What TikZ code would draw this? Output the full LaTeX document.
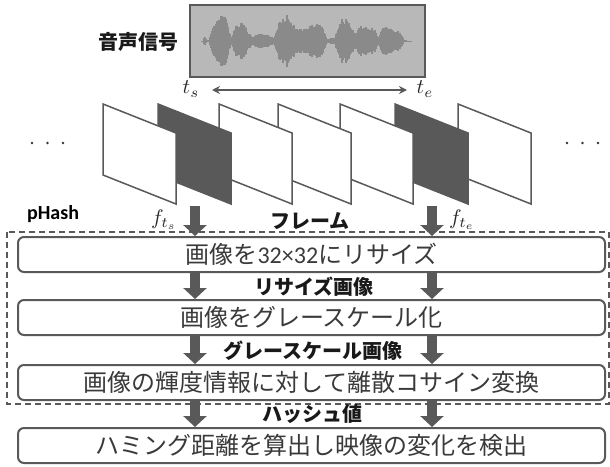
\documentclass[tikz,border=0pt]{standalone}
\usepackage{graphicx}
\usepackage{fontspec}
\newfontfamily\jpfont{Noto Sans CJK JP}
\newfontfamily\calfont{Carlito}
\usetikzlibrary{arrows.meta}
\definecolor{dg}{HTML}{595959}
\definecolor{boxgray}{HTML}{B8B8B8}
\definecolor{wavegray}{HTML}{8A8A8A}
\definecolor{txtgray}{HTML}{3A3A3A}
\newcommand\bigmath[1]{\scalebox{2.1}{$#1$}}
\begin{document}
\begin{tikzpicture}[x=1pt,y=-1pt,
  declare function={bump(\x,\c,\w,\h)=\h*max(0,1-((\x-\c)/\w)*((\x-\c)/\w));},
  procbox/.style={draw=dg, line width=2pt, rounded corners=6pt, fill=white,
    minimum width=587pt, minimum height=35pt, inner sep=0pt,
    font=\jpfont\fontsize{24}{28}\selectfont, text=txtgray},
  boldlbl/.style={font=\jpfont\bfseries\fontsize{20}{24}\selectfont, text=black!90, inner sep=0pt},
  mathlbl/.style={inner sep=0pt, text=black!85},
  framestyle/.style={draw=dg, line width=1.5pt, line join=miter},
  bigarr/.style={draw=dg, line width=10pt, -{Triangle[width=23pt,length=11pt]}},
  wave/.style={draw=wavegray, line width=1.2pt},
  dotmark/.style={fill=black!80, draw=none}
]
\useasboundingbox (0,0) rectangle (610,466);

% audio signal
\node[draw=dg, line width=2pt, fill=boxgray, minimum width=235pt, minimum height=72pt, inner sep=0pt] (audio) at (307.5,41) {};
\node[boldlbl] (audiolbl) at (138,42) {音声信号};
\draw[draw=wavegray, line width=1pt] (201,41) -- (412,41);
\pgfmathsetseed{11}
\foreach \x in {204,...,406} {
  \pgfmathsetmacro\a{(bump(\x,219,10,22)+bump(\x,226,6,12)+bump(\x,239,8,18)+bump(\x,246,6,10)+bump(\x,262,14,7)+bump(\x,283,9,22)+bump(\x,293,9,16)+bump(\x,306,8,14)+bump(\x,318,9,18)+bump(\x,332,5,3)+bump(\x,343,8,22)+bump(\x,351,6,12)+bump(\x,362,7,16)+bump(\x,372,7,13)+bump(\x,386,8,14)+bump(\x,396,8,10)+bump(\x,205,2,3))*(0.72+0.28*rnd)+0.6}
  \draw[wave] (\x,41-\a) -- (\x,41+\a);
}

% time span
\node[mathlbl] (ts) at (191,89) {\bigmath{t_s}};
\node[mathlbl] (te) at (425,89) {\bigmath{t_e}};
\coordinate (tl) at (212,90);
\coordinate (tr) at (407,90);
\draw[dg, line width=1.8pt, {Stealth[length=8pt,width=8pt]}-{Stealth[length=8pt,width=8pt]}] (tl) -- (tr);

% frames (drawn back to front)
\foreach \x/\c in {458/white,395/dg,340/white,278/white,219/white,158/dg,103/white} {
  \filldraw[framestyle, fill=\c] (\x,104) -- ++(73,29) -- ++(0,71) -- ++(-73,-29) -- cycle;
}

% dots
\foreach \x in {32,47.5,63,567,582.5,598} {
  \fill[dotmark] (\x,143) circle (1.3pt);
}

% labels
\node[font=\calfont\bfseries\fontsize{20}{24}\selectfont, inner sep=0pt] (phash) at (53,214) {pHash};
\node[mathlbl] (fts) at (164,220) {\bigmath{f_{t_s}}};
\node[mathlbl] (fte) at (462,220) {\bigmath{f_{t_e}}};
\node[boldlbl] (frm) at (310,221) {フレーム};

% dashed pHash region
\draw[dg, line width=1.2pt, dash pattern=on 6pt off 4pt] (7,232) rectangle (609,404);

% process boxes
\node[procbox] (b1) at (311.5,254.5) {画像を{\calfont 32×32}にリサイズ};
\node[procbox] (b2) at (311.5,317.5) {画像をグレースケール化};
\node[procbox] (b3) at (311.5,382.5) {画像の輝度情報に対して離散コサイン変換};
\node[procbox] (b4) at (311.5,445.5) {ハミング距離を算出し映像の変化を検出};

\node[boldlbl] (l2) at (314,287) {リサイズ画像};
\node[boldlbl] (l3) at (313,351) {グレースケール画像};
\node[boldlbl] (l4) at (312,414) {ハッシュ値};

% arrows
\coordinate (fs) at (195,206);
\coordinate (fe) at (432,206);
\draw[bigarr] (fs) -- (fs |- b1.north);
\draw[bigarr] (fe) -- (fe |- b1.north);
\draw[bigarr] (fs |- b1.south) -- (fs |- b2.north);
\draw[bigarr] (fe |- b1.south) -- (fe |- b2.north);
\draw[bigarr] (fs |- b2.south) -- (fs |- b3.north);
\draw[bigarr] (fe |- b2.south) -- (fe |- b3.north);
\draw[bigarr] (fs |- b3.south) -- (fs |- b4.north);
\draw[bigarr] (fe |- b3.south) -- (fe |- b4.north);
\end{tikzpicture}
\end{document}
